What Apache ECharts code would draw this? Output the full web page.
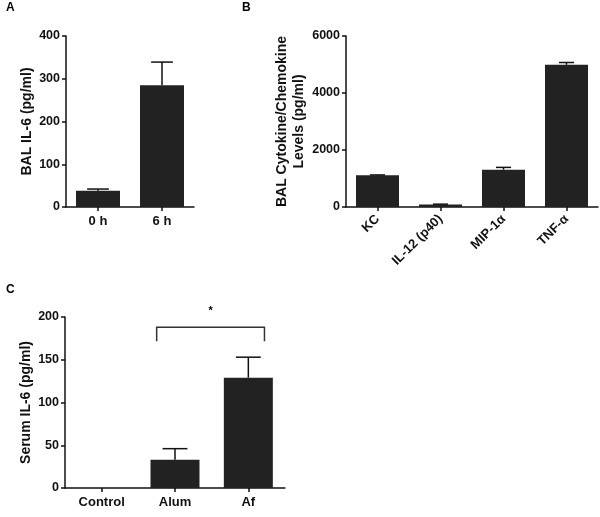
<!DOCTYPE html>
<html><head><meta charset="utf-8">
<script src="https://cdn.jsdelivr.net/npm/echarts@6/dist/echarts.min.js"></script>
<style>html,body{margin:0;padding:0;background:#fff}#c{width:600px;height:517px}</style>
</head><body><div id="c"></div>
<script>
// Panel A
const catsA = ['0 h', '6 h'];
const valsA = [38, 285];
const errA = [4, 54];
const ticksA = [0, 100, 200, 300, 400];
// Panel B
const catsB = ['KC', 'IL-12 (p40)', 'MIP-1\u03B1', 'TNF-\u03B1'];
const valsB = [1110, 90, 1310, 4990];
const errB = [15, 10, 80, 80];
const ticksB = [0, 2000, 4000, 6000];
// Panel C
const catsC = ['Control', 'Alum', 'Af'];
const valsC = [0, 33, 129];
const errC = [0, 13, 24];
const ticksC = [0, 50, 100, 150, 200];
const bracketC = {from: 1, to: 2, low: 171.5, high: 188, label: '*'};

const FONT = 'Liberation Sans, Arial, sans-serif';
const ink = '#111';
const barColor = '#222';

function yAxis(gi, ticks, name, gap) {
  return {
    type: 'value', gridIndex: gi, min: ticks[0], max: ticks[ticks.length-1],
    interval: ticks[1]-ticks[0], splitLine: {show: false},
    axisLine: {show: true, lineStyle: {color: ink, width: 1.5}},
    axisTick: {show: true, length: 4, lineStyle: {color: ink, width: 1.5}},
    axisLabel: {color: ink, fontFamily: FONT, fontWeight: 'bold', fontSize: 12.5, margin: 6,
      formatter: function (v) { return String(v); }},
    name: name, nameLocation: 'middle', nameGap: gap,
    nameTextStyle: {color: ink, fontFamily: FONT, fontWeight: 'bold', fontSize: 14, lineHeight: 17}
  };
}
function xAxis(gi, cats, rotate) {
  return {
    type: 'category', gridIndex: gi, data: cats,
    axisLine: {show: true, lineStyle: {color: ink, width: 1.5}},
    axisTick: {show: true, alignWithLabel: true, length: 4, lineStyle: {color: ink, width: 1.5}},
    axisLabel: {color: ink, fontFamily: FONT, fontWeight: 'bold', fontSize: 13, margin: rotate ? 10 : 8, rotate: rotate || 0, interval: 0}
  };
}
function errSeries(gi, vals, errs, capFrac) {
  return {
    type: 'custom', xAxisIndex: gi, yAxisIndex: gi, z: 3,
    data: vals.map((v, i) => [i, v, errs[i]]),
    renderItem: function (params, api) {
      const i = api.value(0), v = api.value(1), e = api.value(2);
      if (!e) return null;
      const p0 = api.coord([i, v]);
      const p1 = api.coord([i, v + e]);
      const band = api.size([1, 0])[0];
      const hw = band * capFrac / 2;
      const style = {stroke: ink, lineWidth: 1.5};
      return {type: 'group', children: [
        {type: 'line', shape: {x1: p0[0], y1: p0[1], x2: p1[0], y2: p1[1]}, style: style},
        {type: 'line', shape: {x1: p1[0]-hw, y1: p1[1], x2: p1[0]+hw, y2: p1[1]}, style: style}
      ]};
    }
  };
}
function barSeries(gi, vals, w) {
  return {type: 'bar', xAxisIndex: gi, yAxisIndex: gi, data: vals, barWidth: w,
    itemStyle: {color: barColor}, z: 2, silent: true};
}

const chart = echarts.init(document.getElementById('c'), null, {renderer: 'canvas'});
chart.setOption({
  animation: false,
  backgroundColor: '#fff',
  title: [
    {text: 'A', left: 1, top: -3, textStyle: {fontFamily: FONT, fontWeight: 'bold', fontSize: 12, color: '#000'}},
    {text: 'B', left: 237, top: -3, textStyle: {fontFamily: FONT, fontWeight: 'bold', fontSize: 12, color: '#000'}},
    {text: 'C', left: 1, top: 279, textStyle: {fontFamily: FONT, fontWeight: 'bold', fontSize: 12, color: '#000'}}
  ],
  grid: [
    {left: 66, top: 36, width: 128, height: 171},
    {left: 346, top: 36, width: 252, height: 171},
    {left: 65, top: 317, width: 220, height: 171}
  ],
  xAxis: [xAxis(0, catsA), xAxis(1, catsB, 45), xAxis(2, catsC)],
  yAxis: [
    yAxis(0, ticksA, 'BAL IL-6 (pg/ml)', 30),
    yAxis(1, ticksB, 'BAL Cytokine/Chemokine\nLevels (pg/ml)', 38),
    yAxis(2, ticksC, 'Serum IL-6 (pg/ml)', 30)
  ],
  series: [
    barSeries(0, valsA, 44), errSeries(0, valsA, errA, 0.34),
    barSeries(1, valsB, 43), errSeries(1, valsB, errB, 0.24),
    barSeries(2, valsC, 49), errSeries(2, valsC, errC, 0.34),
    {
      type: 'custom', xAxisIndex: 2, yAxisIndex: 2, z: 4, clip: false,
      data: [[bracketC.from, bracketC.to, bracketC.low, bracketC.high]],
      renderItem: function (params, api) {
        const band = api.size([1, 0])[0];
        const a = api.coord([api.value(0), api.value(3)]);
        const b = api.coord([api.value(1), api.value(3)]);
        const lo = api.coord([api.value(0), api.value(2)]);
        const xl = a[0] - band * 0.25, xr = b[0] + band * 0.22;
        const style = {stroke: '#333', lineWidth: 1.5, fill: null};
        return {type: 'group', children: [
          {type: 'polyline', shape: {points: [[xl, lo[1]], [xl, a[1]], [xr, a[1]], [xr, lo[1]]]}, style: style},
          {type: 'text', style: {text: bracketC.label, x: (xl + xr) / 2, y: a[1] - 16, align: 'center', verticalAlign: 'middle',
            font: 'bold 11px ' + FONT, fill: '#000'}}
        ]};
      }
    }
  ]
});
</script></body></html>
